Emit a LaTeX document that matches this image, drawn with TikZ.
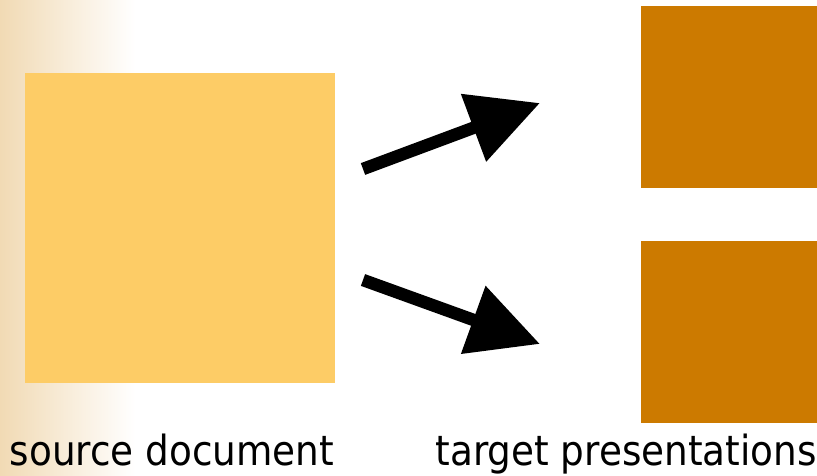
\documentclass[tikz,border=0pt]{standalone}
\usepackage{fontspec}
\setmainfont{DejaVu Sans Condensed}
\usetikzlibrary{arrows.meta}
\definecolor{edgetan}{RGB}{241,218,180}
\definecolor{sourcefill}{RGB}{253,204,102}
\definecolor{targetfill}{RGB}{204,122,0}
\tikzset{
  doc/.style={fill=#1, draw=none, inner sep=0pt, outer sep=0pt},
  caption/.style={font=\fontsize{41.5}{48}\selectfont, inner sep=0pt, anchor=base},
  bigarrow/.style={line width=12.5pt, -{Triangle[length=71pt,width=69pt]}}
}
\begin{document}
\begin{tikzpicture}[x=1pt,y=-1pt]
  % page frame and the tan fade along the left edge
  \useasboundingbox (0,0) rectangle (817,476);
  \fill[left color=edgetan, right color=white] (0,0) rectangle (135,476);

  % source document
  \node[doc=sourcefill, minimum width=310pt, minimum height=310pt] (src) at (180,228) {};
  % target presentations
  \node[doc=targetfill, minimum width=176pt, minimum height=182pt] (tgtA) at (729,97) {};
  \node[doc=targetfill, minimum width=176pt, minimum height=182pt] (tgtB) at (729,332) {};

  % arrow ends
  \coordinate (a1s) at (363,169);
  \coordinate (a1e) at (540,103);
  \coordinate (a2s) at (363,280);
  \coordinate (a2e) at (540,344);
  \draw[bigarrow] (a1s) -- (a1e);
  \draw[bigarrow] (a2s) -- (a2e);

  % captions
  \node[caption] (srclbl) at (172,465) {source document};
  \node[caption] (tgtlbl) at (626,465) {target presentations};
\end{tikzpicture}
\end{document}
